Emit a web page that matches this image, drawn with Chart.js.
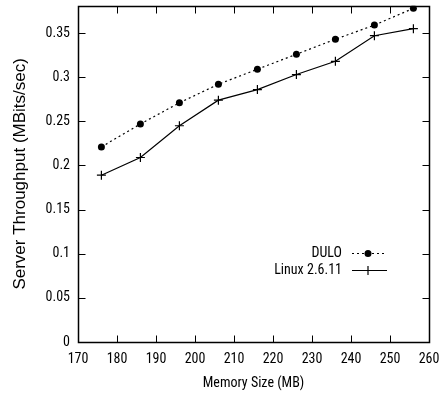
<!DOCTYPE html>
<html>
<head>
<meta charset="utf-8">
<script src="https://cdn.jsdelivr.net/npm/chart.js@4"></script>
<style>
  html, body { margin: 0; padding: 0; background: #fff; }
</style>
</head>
<body>
<canvas id="chart" width="445" height="396"></canvas>
<script>
const memorySizes = [176, 186, 196, 206, 216, 226, 236, 246, 256];
const duloValues = [0.221, 0.247, 0.271, 0.292, 0.309, 0.326, 0.343, 0.359, 0.378];
const linuxValues = [0.189, 0.209, 0.245, 0.274, 0.286, 0.303, 0.318, 0.347, 0.355];
const seriesNames = ['DULO', 'Linux 2.6.11'];
const xTicks = [170, 180, 190, 200, 210, 220, 230, 240, 250, 260];
const yTicks = [0, 0.05, 0.1, 0.15, 0.2, 0.25, 0.3, 0.35];

const FONT = '"Roboto Condensed", "Liberation Sans", sans-serif';

const toPoints = (vals) => memorySizes.map((x, i) => ({ x: x, y: vals[i] }));

// gnuplot-style frame: border box with inward ticks on all four sides, plus key
const framePlugin = {
  id: 'frame',
  afterDraw(chart) {
    const ctx = chart.ctx;
    const a = chart.chartArea;
    const xs = chart.scales.x, ys = chart.scales.y;
    const len = 7;
    const L = Math.round(a.left) + 0.5, R = Math.round(a.right) + 0.5;
    const T = Math.round(a.top) + 0.5, B = Math.round(a.bottom) + 0.5;
    ctx.save();
    ctx.setLineDash([]);
    ctx.strokeStyle = '#000';
    ctx.lineWidth = 1.5;
    ctx.beginPath();
    ctx.moveTo(L, T); ctx.lineTo(R, T); ctx.lineTo(R, B); ctx.lineTo(L, B); ctx.closePath();
    ctx.stroke();
    ctx.lineWidth = 1;
    ctx.beginPath();
    xTicks.forEach(v => {
      const px = Math.round(xs.getPixelForValue(v)) + 0.5;
      ctx.moveTo(px, B); ctx.lineTo(px, B - len);
      ctx.moveTo(px, T); ctx.lineTo(px, T + len);
    });
    yTicks.forEach(v => {
      const py = Math.round(ys.getPixelForValue(v)) + 0.5;
      ctx.moveTo(L, py); ctx.lineTo(L + len, py);
      ctx.moveTo(R, py); ctx.lineTo(R - len, py);
    });
    ctx.stroke();

    // key: text on the left, line sample on the right
    ctx.font = '14px ' + FONT;
    ctx.fillStyle = '#000';
    ctx.textAlign = 'right';
    ctx.textBaseline = 'middle';
    const textX = a.right - 87;
    chart.data.datasets.forEach((ds, i) => {
      const y = 253 + i * 17;
      ctx.fillText(ds.label, textX, y);
      const x0 = textX + 10, x1 = textX + 45, xm = textX + 26;
      ctx.beginPath();
      ctx.setLineDash(ds.borderDash || []);
      ctx.lineWidth = ds.borderWidth;
      ctx.moveTo(x0, y + 0.5); ctx.lineTo(x1, y + 0.5);
      ctx.stroke();
      ctx.setLineDash([]);
      if (ds.pointStyle === 'circle') {
        ctx.beginPath();
        ctx.arc(xm, y + 0.5, ds.pointRadius, 0, Math.PI * 2);
        ctx.fill();
      } else {
        ctx.lineWidth = ds.pointBorderWidth;
        ctx.beginPath();
        ctx.moveTo(xm - ds.pointRadius, y + 0.5); ctx.lineTo(xm + ds.pointRadius, y + 0.5);
        ctx.moveTo(xm, y + 0.5 - ds.pointRadius); ctx.lineTo(xm, y + 0.5 + ds.pointRadius);
        ctx.stroke();
      }
    });
    ctx.restore();
  }
};

new Chart(document.getElementById('chart').getContext('2d'), {
  type: 'line',
  data: {
    datasets: [{
      label: seriesNames[0],
      data: toPoints(duloValues),
      borderColor: '#000',
      backgroundColor: '#000',
      borderWidth: 1.2,
      borderDash: [2, 3],
      pointStyle: 'circle',
      pointRadius: 3.5,
      pointBorderWidth: 0,
      tension: 0,
      fill: false
    }, {
      label: seriesNames[1],
      data: toPoints(linuxValues),
      borderColor: '#000',
      backgroundColor: '#000',
      borderWidth: 1.2,
      pointStyle: 'cross',
      pointRadius: 4.5,
      pointBorderWidth: 1.2,
      tension: 0,
      fill: false
    }]
  },
  options: {
    responsive: false,
    animation: false,
    layout: { padding: { top: 5, right: 16, left: 0, bottom: 0 } },
    scales: {
      x: {
        type: 'linear',
        min: 170,
        max: 260,
        grid: { display: false, drawTicks: false },
        border: { display: false },
        ticks: { stepSize: 10, color: '#000', padding: 9, maxRotation: 0, font: { family: FONT, size: 14 } },
        title: { display: true, text: 'Memory Size (MB)', color: '#000', padding: { top: 4, bottom: 4 }, font: { family: FONT, size: 14 } },
        afterFit(scale) { scale.height = 54; scale.paddingLeft = 0; scale.paddingRight = 0; }
      },
      y: {
        type: 'linear',
        min: 0,
        max: 0.381,
        grid: { display: false, drawTicks: false },
        border: { display: false },
        ticks: {
          stepSize: 0.05,
          color: '#000',
          padding: 8,
          font: { family: FONT, size: 14 },
          callback: (v) => (v > 0.37 ? '' : String(Math.round(v * 100) / 100))
        },
        title: { display: true, text: 'Server Throughput (MBits/sec)', color: '#000', padding: { top: 10, bottom: 4 }, font: { family: '"Liberation Sans", Arial, sans-serif', size: 17 } },
        afterFit(scale) { scale.width = 78; scale.paddingTop = 0; scale.paddingBottom = 0; }
      }
    },
    plugins: {
      legend: { display: false },
      tooltip: { enabled: false }
    }
  },
  plugins: [framePlugin]
});
</script>
</body>
</html>
